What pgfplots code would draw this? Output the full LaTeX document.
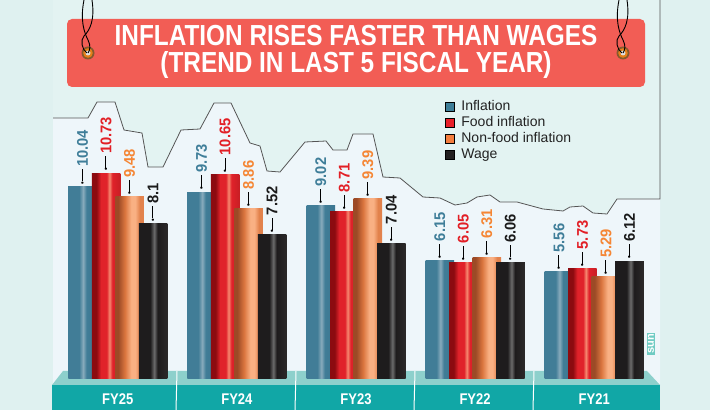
\documentclass[border=0pt]{standalone}
\usepackage{pgfplots}
\usepackage{pgfplotstable}
\pgfplotsset{compat=1.18}
\usepackage{fontspec}
\setmainfont{Liberation Sans}
\newfontfamily\condfont{Liberation Sans}[FakeStretch=0.84]
\newfontfamily\labfont{Liberation Sans}[FakeStretch=0.95]

\definecolor{bgout}{HTML}{DFF1F0}
\definecolor{bgpanel}{HTML}{E3F3F2}
\definecolor{bginner}{HTML}{EEF6FA}
\definecolor{linegray}{HTML}{555555}
\definecolor{banner}{HTML}{F25D55}
\definecolor{teallight}{HTML}{8DD0CC}
\definecolor{tealdark}{HTML}{11A7A6}
\definecolor{sunteal}{HTML}{6FCBC3}
\definecolor{legtext}{HTML}{222222}

% series colours (legend / labels)
\definecolor{inflC}{HTML}{3E7E98}
\definecolor{foodC}{HTML}{E8202A}
\definecolor{nonfC}{HTML}{F47D3E}
\definecolor{wageC}{HTML}{231F20}
\definecolor{inflT}{HTML}{3F7E99}
\definecolor{foodT}{HTML}{E21F26}
\definecolor{nonfT}{HTML}{F58634}
\definecolor{wageT}{HTML}{1B1B1B}

% cylinder shadings for the bars
\definecolor{ia}{HTML}{417D97}
\definecolor{ib}{HTML}{88ABBC}
\definecolor{ic}{HTML}{3A7690}
\pgfdeclarehorizontalshading{inflsh}{100bp}{color(0bp)=(ia); color(25bp)=(ia); color(44bp)=(ia); color(51bp)=(ib); color(57bp)=(ia); color(75bp)=(ic); color(100bp)=(ic)}
\definecolor{fa}{HTML}{8C0B10}
\definecolor{fb}{HTML}{E0222A}
\definecolor{fc}{HTML}{F6886F}
\definecolor{fd}{HTML}{C81E24}
\pgfdeclarehorizontalshading{foodsh}{100bp}{color(0bp)=(fa); color(25bp)=(fa); color(33bp)=(fa); color(41bp)=(fb); color(51bp)=(fb); color(56bp)=(fc); color(61bp)=(fb); color(75bp)=(fd); color(100bp)=(fd)}
\definecolor{na}{HTML}{9C4A26}
\definecolor{nb}{HTML}{DB763F}
\definecolor{nc}{HTML}{F9B083}
\definecolor{nd}{HTML}{E2824C}
\pgfdeclarehorizontalshading{nonfsh}{100bp}{color(0bp)=(na); color(25bp)=(na); color(30bp)=(na); color(42bp)=(nb); color(53bp)=(nc); color(60bp)=(nc); color(68bp)=(nd); color(75bp)=(nd); color(100bp)=(nd)}
\definecolor{wa}{HTML}{1E1C1D}
\definecolor{wb}{HTML}{6B6B6B}
\definecolor{wc}{HTML}{2B2929}
\pgfdeclarehorizontalshading{wagesh}{100bp}{color(0bp)=(wa); color(25bp)=(wa); color(45bp)=(wa); color(52bp)=(wb); color(58bp)=(wa); color(75bp)=(wc); color(100bp)=(wc)}

% leader line with dot in front of every value label
\newcommand\lead{\hspace*{2pt}{\color{black}\raisebox{2.8pt}{\fontsize{8}{8}\selectfont •}\rule[5.2pt]{12pt}{0.7pt}}\hspace*{2.5pt}}

\pgfplotstableread{
x infl food nonf wage
0 10.04 10.73 9.48 8.1
1 9.73 10.65 8.86 7.52
2 9.02 8.71 9.39 7.04
3 6.15 6.05 6.31 6.06
4 5.56 5.73 5.29 6.12
}\data

\begin{document}
\begin{tikzpicture}
\useasboundingbox (0,0) rectangle (710pt,410pt);
\fill[bgout] (0,0) rectangle (710pt,410pt);
\begin{scope}[x=1pt,y=-1pt,yshift=410pt]
  \fill[bgpanel] (53,0) rectangle (660,385);
  \fill[bginner] (53,118) -- (88,118) -- (97,102) -- (115,102) -- (124,130) -- (142,133) -- (148,167) -- (163,167) -- (181,130) -- (200,129) -- (214,103) -- (231,103) -- (250,143) -- (260,146) -- (267,171) -- (280,172) -- (305,142) -- (326,141) -- (333,150) -- (347,150) -- (353,134) -- (373,134) -- (383,177) -- (400,178) -- (423,197) -- (440,198) -- (455,205) -- (467,203) -- (477,197) -- (490,195) -- (500,202) -- (517,202) -- (543,209) -- (563,211) -- (570,207) -- (583,206) -- (593,213) -- (607,214) -- (617,199) -- (660,199) -- (660,385) -- (53,385) -- cycle;
  \draw[linegray, line width=0.8pt] (53,118) -- (88,118) -- (97,102) -- (115,102) -- (124,130) -- (142,133) -- (148,167) -- (163,167) -- (181,130) -- (200,129) -- (214,103) -- (231,103) -- (250,143) -- (260,146) -- (267,171) -- (280,172) -- (305,142) -- (326,141) -- (333,150) -- (347,150) -- (353,134) -- (373,134) -- (383,177) -- (400,178) -- (423,197) -- (440,198) -- (455,205) -- (467,203) -- (477,197) -- (490,195) -- (500,202) -- (517,202) -- (543,209) -- (563,211) -- (570,207) -- (583,206) -- (593,213) -- (607,214) -- (617,199) -- (660,199) -- (660,0);
  % platform
  \fill[teallight] (63,371) -- (647,371) -- (660,385) -- (52,385) -- cycle;
  \fill[tealdark] (52,385) rectangle (660,410);
  \foreach \x in {177,296,415,534} \draw[white, line width=1pt] (\x,371) -- (\x-1,410);
  % logo
  \node[fill=sunteal, inner sep=1.2pt, rotate=90, text=white, font=\bfseries\fontsize{11}{11}\selectfont] at (651,344) {sun};
  % banner
  \fill[banner, rounded corners=5pt] (67,19) rectangle (645,87);
  \foreach \gx in {88,623} {
    \fill[brown!70!black] (\gx,53) circle (6.5);
    \fill[orange!60!brown] (\gx,53) circle (4.8);
    \fill[gray!25] (\gx,53) circle (2.5);
    \draw[black, line width=0.9pt] (\gx-4,0) .. controls (\gx-8,20) and (\gx-4,32) .. (\gx,40) .. controls (\gx+3,46) and (\gx+2,50) .. (\gx,53);
    \draw[black, line width=0.9pt] (\gx+4,0) .. controls (\gx+7,20) and (\gx+2,30) .. (\gx-4,36) .. controls (\gx-8,40) and (\gx-6,50) .. (\gx-1,53);
  }
  \node[anchor=base, text=white, inner sep=0pt, font=\condfont\bfseries\fontsize{29}{29}\selectfont] at (356,46) {INFLATION RISES FASTER THAN WAGES};
  \node[anchor=base, text=white, inner sep=0pt, font=\condfont\bfseries\fontsize{29}{29}\selectfont] at (356,73) {(TREND IN LAST 5 FISCAL YEAR)};
\end{scope}

\begin{axis}[
    at={(0pt,0pt)}, anchor=south west, scale only axis,
    width=710pt, height=410pt,
    xmin=-0.98909, xmax=4.97229, ymin=-1.6754, ymax=19.7906,
    axis line style={draw=none}, tick style={draw=none},
    ytick=\empty, xtick={0,1,2,3,4},
    xticklabels={FY25,FY24,FY23,FY22,FY21},
    xticklabel style={anchor=base, yshift=10pt, text=white, font=\condfont\bfseries\fontsize{15.5}{15.5}\selectfont},
    ybar, bar width=28.5pt,
    clip=false,
    nodes near coords={\lead\pgfplotspointmeta},
    point meta=explicit symbolic,
    every node near coord/.append style={rotate=90, anchor=west, inner sep=0pt, font=\labfont\bfseries\fontsize{15.5}{15.5}\selectfont},
    legend image code/.code={\fill[#1] (0pt,-4.5pt) rectangle (9pt,4.5pt); \path (15pt,0pt);},
    legend style={at={(0.6268,0.7591)}, anchor=north west, draw=none, fill=none, inner sep=0pt,
      font=\fontsize{14}{14}\selectfont, text=legtext, cells={anchor=west}, row sep=0pt,
      nodes={inner sep=0.75pt, text height=11pt, text depth=3.5pt}},
  ]
  \addlegendimage{fill=inflC}
  \addlegendentry{Inflation}
  \addlegendimage{fill=foodC}
  \addlegendentry{Food inflation}
  \addlegendimage{fill=nonfC}
  \addlegendentry{Non-food inflation}
  \addlegendimage{fill=wageC}
  \addlegendentry{Wage}

  % one plot per bar, so that every bar gets its own cylinder shading
  \pgfplotsinvokeforeach{0,...,4}{
    \addplot[forget plot, draw=none, fill=inflC, shading=inflsh, bar shift=-35.25pt,
      restrict expr to domain={\coordindex}{#1:#1},
      every node near coord/.append style={text=inflT}] table[x=x, y=infl, meta=infl] {\data};
    \addplot[forget plot, draw=none, fill=foodC, shading=foodsh, bar shift=-11.75pt,
      restrict expr to domain={\coordindex}{#1:#1},
      every node near coord/.append style={text=foodT}] table[x=x, y=food, meta=food] {\data};
    \addplot[forget plot, draw=none, fill=nonfC, shading=nonfsh, bar shift=11.75pt,
      restrict expr to domain={\coordindex}{#1:#1},
      every node near coord/.append style={text=nonfT}] table[x=x, y=nonf, meta=nonf] {\data};
    \addplot[forget plot, draw=none, fill=wageC, shading=wagesh, bar shift=35.25pt,
      restrict expr to domain={\coordindex}{#1:#1},
      every node near coord/.append style={text=wageT}] table[x=x, y=wage, meta=wage] {\data};
  }
\end{axis}
\end{tikzpicture}
\end{document}
